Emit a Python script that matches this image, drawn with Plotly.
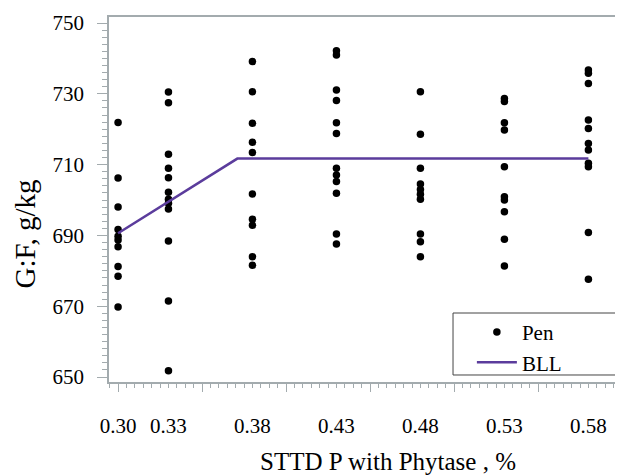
import plotly.graph_objects as go

# ---- data ----
doses = [0.30, 0.33, 0.38, 0.43, 0.48, 0.53, 0.58]
dose_labels = ["0.30", "0.33", "0.38", "0.43", "0.48", "0.53", "0.58"]

gf_030 = [721.9, 706.2, 698.0, 691.7, 689.8, 688.7, 686.8, 681.2, 678.5, 669.8]
gf_033 = [730.5, 727.5, 712.9, 709.0, 706.3, 702.2, 700.2, 699.1, 697.5, 688.4, 671.5, 651.8]
gf_038 = [739.1, 730.6, 721.7, 716.3, 713.4, 701.7, 694.6, 692.9, 684.0, 681.6]
gf_043 = [742.2, 741.0, 731.1, 728.1, 721.8, 718.8, 709.0, 707.1, 705.2, 701.9, 690.4, 687.6]
gf_048 = [730.6, 718.6, 709.0, 704.5, 703.0, 701.6, 700.2, 690.4, 688.2, 684.0]
gf_053 = [728.7, 727.8, 721.8, 719.8, 709.4, 700.9, 700.0, 696.7, 688.9, 681.4]
gf_058 = [736.7, 735.8, 732.9, 722.6, 720.2, 716.0, 714.1, 710.4, 709.4, 690.8, 677.6]

bll_x = [0.30, 0.371, 0.58]
bll_y = [690.6, 711.7, 711.7]

y_ticks = [650, 670, 690, 710, 730, 750]
x_major_ticks = [0.30, 0.35, 0.40, 0.45, 0.50, 0.55, 0.60]

x_title = "STTD P with Phytase , %"
y_title = "G:F, g/kg"

groups = [gf_030, gf_033, gf_038, gf_043, gf_048, gf_053, gf_058]
pen_x, pen_y = [], []
for d, vals in zip(doses, groups):
    pen_x += [d] * len(vals)
    pen_y += vals

FONT = "Liberation Serif, Times New Roman, Times, DejaVu Serif, serif"
AXC = "#a3abae"

fig = go.Figure()
fig.add_trace(go.Scatter(
    x=pen_x, y=pen_y, mode="markers", name="Pen",
    marker=dict(color="black", size=7.5, symbol="circle"),
))
fig.add_trace(go.Scatter(
    x=bll_x, y=bll_y, mode="lines", name="BLL",
    line=dict(color="#5b3c9c", width=2.5),
))
# helper trace so the tick-mark overlay axis is drawn
fig.add_trace(go.Scatter(x=[], y=[], xaxis="x2", showlegend=False, hoverinfo="skip"))

fig.update_layout(
    width=623, height=468,
    margin=dict(l=101, r=8, t=9, b=94, autoexpand=False),
    paper_bgcolor="white", plot_bgcolor="white",
    font=dict(family=FONT, color="black", size=20),
    showlegend=True,
    legend=dict(
        x=0.706, xanchor="left", y=0.192, yanchor="top",
        borderwidth=0, bgcolor="rgba(0,0,0,0)",
        font=dict(family=FONT, size=21), itemwidth=40,
        tracegroupgap=0,
    ),
    shapes=[dict(
        type="rect", xref="paper", yref="paper",
        x0=0.6693, x1=0.998, y0=0.0192, y1=0.189,
        line=dict(color="#444444", width=1), fillcolor="white", layer="above",
    )],
    annotations=[
        dict(text=x_title, xref="paper", yref="paper", x=0.543, y=-0.218,
             xanchor="center", yanchor="middle", showarrow=False,
             font=dict(family=FONT, size=25)),
        dict(text=y_title, xref="paper", yref="paper", x=-0.163, y=0.405,
             xanchor="center", yanchor="middle", showarrow=False, textangle=-90,
             font=dict(family=FONT, size=29)),
    ],
    xaxis=dict(
        range=[0.2946, 0.6006], automargin=False,
        tickmode="array", tickvals=doses, ticktext=dose_labels,
        ticks="", showgrid=False, zeroline=False,
        showline=True, linecolor=AXC, linewidth=1.5, mirror=True,
        tickfont=dict(family=FONT, size=21),
        ticklabelstandoff=24,
    ),
    xaxis2=dict(
        overlaying="x", matches="x", anchor="y", side="bottom",
        range=[0.2946, 0.6006], automargin=False,
        tickmode="array", tickvals=x_major_ticks, showticklabels=False,
        ticks="outside", ticklen=9, tickcolor=AXC, tickwidth=1,
        minor=dict(tickmode="linear", tick0=0.30, dtick=0.005, ticks="outside", ticklen=5, tickcolor=AXC),
        showgrid=False, zeroline=False, showline=False,
    ),
    yaxis=dict(
        range=[648.6, 751.7], automargin=False,
        tickmode="array", tickvals=y_ticks,
        ticks="outside", ticklen=10, tickcolor=AXC, tickwidth=1,
        minor=dict(tickmode="linear", tick0=650, dtick=2, ticks="outside", ticklen=5, tickcolor=AXC),
        showgrid=False, zeroline=False,
        showline=True, linecolor=AXC, linewidth=1.5, mirror=False,
        tickfont=dict(family=FONT, size=21),
        ticklabelstandoff=9,
    ),
)

fig.write_html("out.html")
